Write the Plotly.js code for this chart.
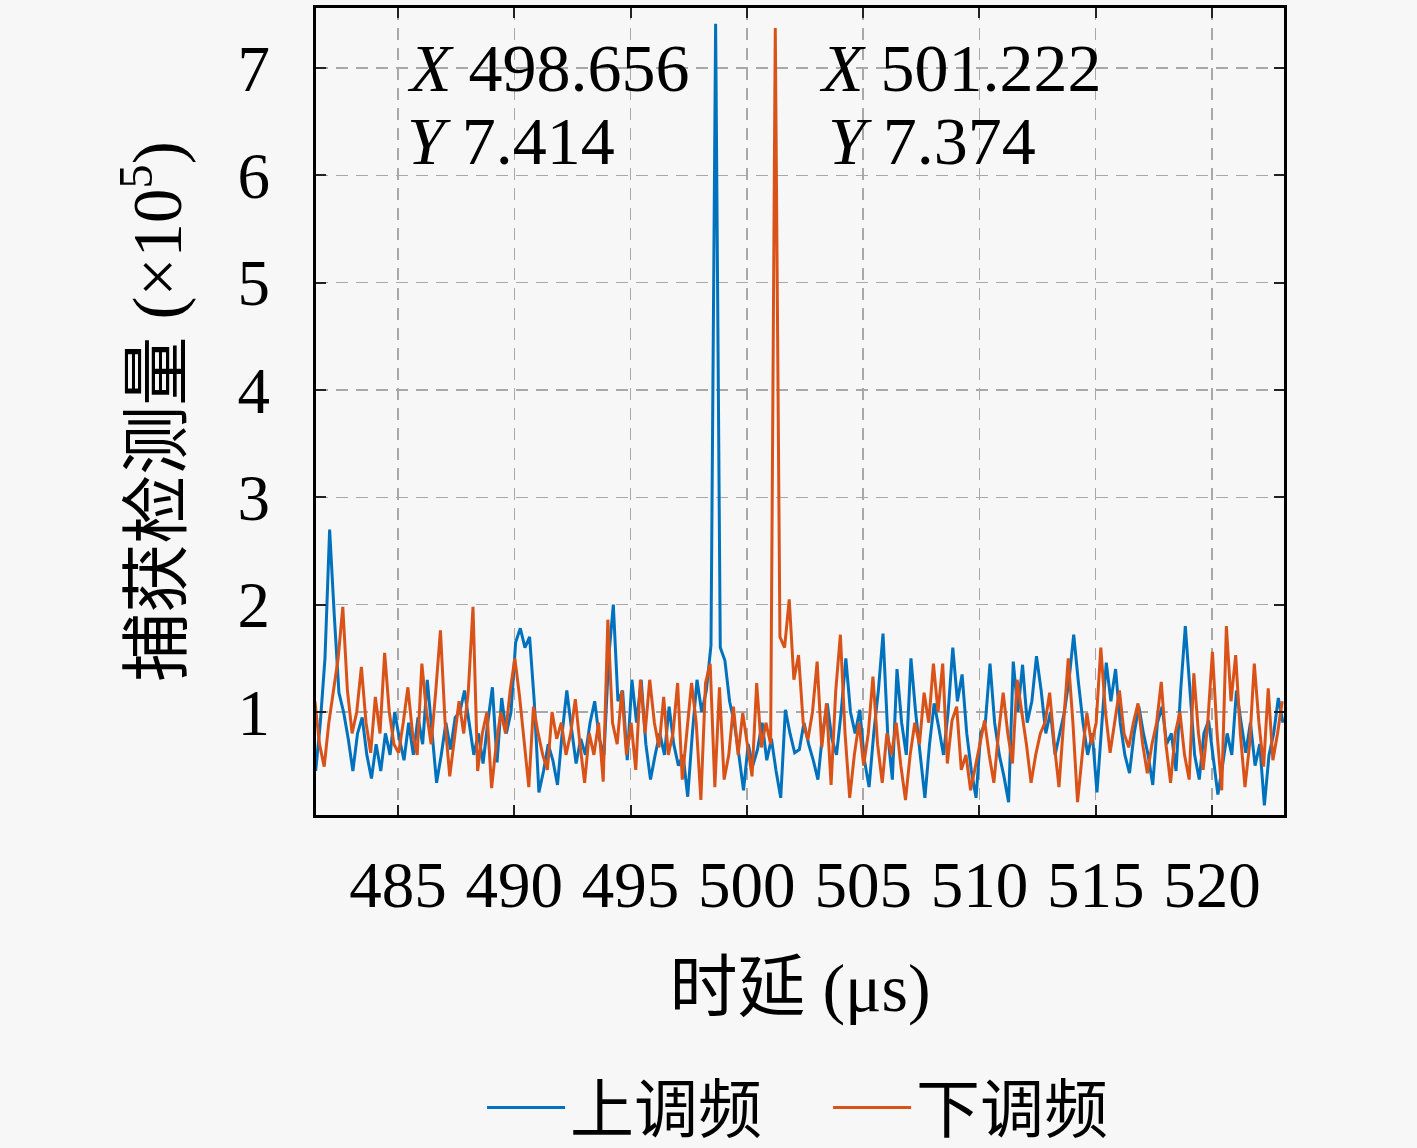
<!DOCTYPE html>
<html>
<head>
<meta charset="utf-8">
<script src="https://cdn.plot.ly/plotly-3.0.1.min.js"></script>
<style>
  html, body { margin: 0; padding: 0; background: #f7f7f7; }
  #chart { width: 1417px; height: 1148px; }
</style>
</head>
<body>
<div id="chart"></div>
<script>
// sample grid (µs) for each sweep
const upStart = 481.456;
const downStart = 481.422;
const step = 0.2;

// 上调频 (up-chirp) detection values, x1e5
const upValues = [
  0.45, 0.9, 1.5, 2.7, 1.9, 1.18, 1.0, 0.75, 0.45, 0.8,
  0.95, 0.6, 0.38, 0.7, 0.45, 0.8, 0.6, 1.0, 0.75, 0.55,
  0.9, 0.6, 0.95, 0.7, 1.3, 0.8, 0.34, 0.6, 0.9, 0.65,
  0.95, 1.0, 1.2, 0.9, 0.6, 0.8, 0.52, 0.9, 1.23, 0.53,
  1.13, 0.8, 1.0, 1.65, 1.78, 1.6, 1.7, 1.1, 0.25, 0.45,
  0.7, 0.55, 0.32, 0.8, 1.2, 0.85, 0.52, 0.75, 0.6, 0.9,
  1.1, 0.75, 0.6, 1.5, 2.0, 1.1, 1.2, 0.55, 1.3, 0.9,
  1.3, 0.7, 0.37, 0.6, 0.8, 0.6, 1.05, 0.7, 0.5, 0.6,
  0.21, 0.8, 1.3, 1.0, 1.2, 1.62, 7.414, 1.6, 1.48, 1.1,
  0.9, 0.6, 0.27, 0.7, 0.5, 0.65, 0.9, 0.55, 0.75, 0.45,
  0.2, 1.02, 0.8, 0.62, 0.65, 0.9, 0.7, 0.55, 0.37, 0.8,
  1.08, 0.75, 0.6, 1.0, 1.5, 1.0, 0.8, 1.02, 0.55, 0.3,
  0.8, 1.2, 1.73, 0.8, 0.37, 1.4, 0.9, 0.6, 1.5, 1.0,
  0.6, 0.2, 0.7, 1.08, 0.85, 0.6, 1.0, 1.6, 1.1, 1.35,
  0.8, 0.45, 0.2, 0.8, 0.9, 1.45, 0.9, 0.6, 0.4, 0.16,
  1.47, 1.0, 1.44, 0.9, 1.1, 1.52, 1.2, 0.8, 1.0, 0.6,
  0.8, 1.0, 1.3, 1.72, 1.28, 0.9, 0.6, 0.8, 0.25, 0.9,
  1.46, 1.1, 1.4, 0.9, 0.6, 0.43, 0.8, 1.05, 0.8, 0.6,
  0.32, 0.9, 1.05, 0.7, 0.8, 0.45, 1.2, 1.8, 1.2, 0.6,
  0.37, 0.8, 0.92, 0.6, 0.23, 0.5, 0.8, 0.6, 1.2, 0.9,
  0.62, 0.9, 0.5, 0.7, 0.13, 0.6, 0.8, 1.13, 0.9
];

// 下调频 (down-chirp) detection values, x1e5
const downValues = [
  1.1, 0.7, 0.49, 0.9, 1.2, 1.5, 1.98, 1.2, 0.8, 1.0,
  1.42, 0.9, 0.62, 1.14, 0.8, 1.55, 1.0, 0.7, 0.62, 0.9,
  1.23, 0.8, 0.6, 1.45, 1.0, 0.7, 1.2, 1.76, 0.9, 0.4,
  0.75, 1.1, 0.8, 1.2, 1.98, 0.45, 0.8, 1.0, 0.29, 0.7,
  1.0, 0.8, 1.2, 1.5, 1.15, 0.7, 0.3, 1.05, 0.8, 0.6,
  0.46, 1.0, 0.75, 0.9, 0.6, 0.8, 1.12, 0.7, 0.34, 0.8,
  0.6, 0.9, 0.35, 1.86, 0.9, 0.7, 1.2, 0.6, 0.9, 0.46,
  1.3, 0.8, 1.3, 0.9, 0.67, 1.14, 0.6, 0.8, 1.27, 0.37,
  0.8, 1.27, 0.9, 0.18, 1.27, 1.45, 0.3, 1.23, 0.37, 0.6,
  1.05, 0.6, 0.99, 0.7, 0.4, 1.27, 0.67, 0.9, 0.7, 7.374,
  1.7, 1.6, 2.05, 1.3, 1.53, 0.9, 0.74, 1.0, 1.47, 0.67,
  1.08, 0.32, 1.2, 1.72, 0.8, 0.2, 0.6, 0.9, 0.5, 0.8,
  1.33, 0.7, 0.34, 0.8, 0.6, 0.9, 0.5, 0.18, 0.6, 0.9,
  0.7, 1.18, 0.9, 1.45, 1.0, 1.45, 0.52, 0.92, 1.05, 0.46,
  0.6, 0.27, 0.5, 0.7, 0.92, 0.6, 0.34, 0.8, 1.18, 0.8,
  0.52, 1.3, 1.0, 0.7, 0.34, 0.6, 0.8, 0.9, 1.18, 0.7,
  0.3, 0.9, 1.5, 0.9, 0.16, 0.6, 0.99, 0.7, 0.9, 1.6,
  1.0, 0.62, 0.9, 1.2, 0.8, 0.67, 0.9, 1.08, 0.7, 0.43,
  0.7, 0.9, 1.28, 0.7, 0.34, 0.8, 1.0, 0.6, 0.37, 1.36,
  0.8, 0.46, 0.9, 1.56, 0.8, 0.27, 1.8, 1.1, 1.53, 0.8,
  0.3, 0.7, 1.45, 0.9, 0.49, 1.22, 0.55, 0.8, 1.1
];

const seriesNames = ["上调频", "下调频"];
const xTicks = [485, 490, 495, 500, 505, 510, 515, 520];
const yTicks = [1, 2, 3, 4, 5, 6, 7];

// data tips
const peakX = [498.656, 501.222];
const peakY = [7.414, 7.374];

const serif = "Liberation Serif, Noto Sans CJK SC, serif";
const bg = "#f7f7f7";

const traces = [
  {
    x0: upStart, dx: step, y: upValues,
    type: "scatter", mode: "lines", name: seriesNames[0],
    line: { color: "#0072BD", width: 3 },
  },
  {
    x0: downStart, dx: step, y: downValues,
    type: "scatter", mode: "lines", name: seriesNames[1],
    line: { color: "#D95319", width: 3 },
  },
];

const axisCommon = {
  showline: true, linecolor: "#000", linewidth: 3, mirror: "ticks",
  ticks: "inside", ticklen: 10, tickwidth: 2, tickcolor: "#222",
  showgrid: true, gridcolor: "#a8a8a8", gridwidth: 1.5, griddash: "12px,8px",
  zeroline: false,
  tickfont: { family: serif, size: 65, color: "#000" },
};

const tipFont = { family: serif, size: 68, color: "#000" };

const layout = {
  width: 1417, height: 1148,
  margin: { l: 316, r: 133, t: 8, b: 333 },
  paper_bgcolor: bg, plot_bgcolor: bg,
  showlegend: true,
  xaxis: Object.assign({}, axisCommon, {
    range: [481.47, 523.1],
    tickvals: xTicks,
    ticklabelstandoff: 11,
    title: { text: "时延 (μs)", font: { family: serif, size: 68, color: "#000" }, standoff: 44 },
  }),
  yaxis: Object.assign({}, axisCommon, {
    range: [0.04, 7.56],
    tickvals: yTicks,
    ticklabelstandoff: 30,
    title: { text: "捕获检测量 (×10<sup>5</sup>)", font: { family: serif, size: 69, color: "#000" }, standoff: 34 },
  }),
  legend: {
    orientation: "h", x: 0.529, xanchor: "center",
    yref: "container", y: 0.035, yanchor: "middle",
    font: { family: serif, size: 64, color: "#000" },
    bgcolor: "rgba(0,0,0,0)", itemwidth: 78, entrywidth: 253, entrywidthmode: "pixels",
  },
  annotations: [
    { x: 485.3, y: 7.0, xref: "x", yref: "y", xanchor: "left", yanchor: "middle",
      text: "<i>X</i> " + peakX[0].toFixed(3), showarrow: false, font: tipFont },
    { x: 485.3, y: 6.32, xref: "x", yref: "y", xanchor: "left", yanchor: "middle",
      text: "<i>Y</i> " + peakY[0].toFixed(3), showarrow: false, font: tipFont },
    { x: 503.0, y: 7.0, xref: "x", yref: "y", xanchor: "left", yanchor: "middle",
      text: "<i>X</i> " + peakX[1].toFixed(3), showarrow: false, font: tipFont },
    { x: 503.4, y: 6.32, xref: "x", yref: "y", xanchor: "left", yanchor: "middle",
      text: "<i>Y</i> " + peakY[1].toFixed(3), showarrow: false, font: tipFont },
  ],
};

Plotly.newPlot("chart", traces, layout, { staticPlot: true });
</script>
</body>
</html>
